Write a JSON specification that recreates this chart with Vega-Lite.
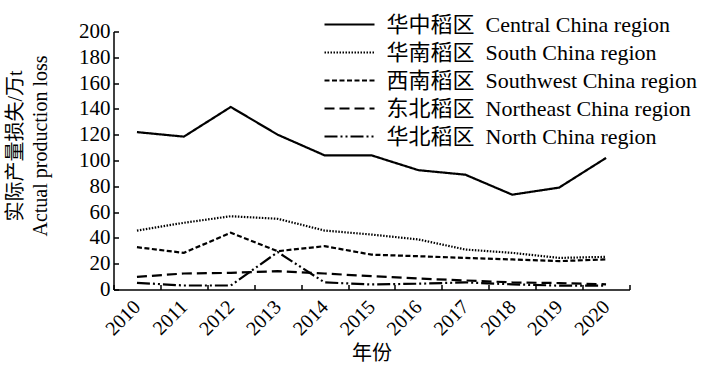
{
  "$schema": "https://vega.github.io/schema/vega-lite/v6.json",
  "autosize": {"type": "none"},
  "padding": {"left": 113.5, "top": 31.5, "right": 83.5, "bottom": 79.5},
  "width": 516,
  "height": 258,
  "background": "white",
  "data": {"values": [
    {"year": 2010, "region": "华中稻区 Central China region", "v": 122},
    {"year": 2011, "region": "华中稻区 Central China region", "v": 118.5},
    {"year": 2012, "region": "华中稻区 Central China region", "v": 141.5},
    {"year": 2013, "region": "华中稻区 Central China region", "v": 120},
    {"year": 2014, "region": "华中稻区 Central China region", "v": 104},
    {"year": 2015, "region": "华中稻区 Central China region", "v": 104},
    {"year": 2016, "region": "华中稻区 Central China region", "v": 92.5},
    {"year": 2017, "region": "华中稻区 Central China region", "v": 89},
    {"year": 2018, "region": "华中稻区 Central China region", "v": 73.5},
    {"year": 2019, "region": "华中稻区 Central China region", "v": 79},
    {"year": 2020, "region": "华中稻区 Central China region", "v": 102},
    {"year": 2010, "region": "华南稻区 South China region", "v": 45.7},
    {"year": 2011, "region": "华南稻区 South China region", "v": 51.7},
    {"year": 2012, "region": "华南稻区 South China region", "v": 56.8},
    {"year": 2013, "region": "华南稻区 South China region", "v": 54.8},
    {"year": 2014, "region": "华南稻区 South China region", "v": 45.7},
    {"year": 2015, "region": "华南稻区 South China region", "v": 42.6},
    {"year": 2016, "region": "华南稻区 South China region", "v": 38.8},
    {"year": 2017, "region": "华南稻区 South China region", "v": 31},
    {"year": 2018, "region": "华南稻区 South China region", "v": 28.4},
    {"year": 2019, "region": "华南稻区 South China region", "v": 24.5},
    {"year": 2020, "region": "华南稻区 South China region", "v": 25.3},
    {"year": 2010, "region": "西南稻区 Southwest China region", "v": 32.8},
    {"year": 2011, "region": "西南稻区 Southwest China region", "v": 28.4},
    {"year": 2012, "region": "西南稻区 Southwest China region", "v": 44},
    {"year": 2013, "region": "西南稻区 Southwest China region", "v": 29.7},
    {"year": 2014, "region": "西南稻区 Southwest China region", "v": 33.6},
    {"year": 2015, "region": "西南稻区 Southwest China region", "v": 27},
    {"year": 2016, "region": "西南稻区 Southwest China region", "v": 25.8},
    {"year": 2017, "region": "西南稻区 Southwest China region", "v": 24.5},
    {"year": 2018, "region": "西南稻区 Southwest China region", "v": 23.3},
    {"year": 2019, "region": "西南稻区 Southwest China region", "v": 22},
    {"year": 2020, "region": "西南稻区 Southwest China region", "v": 23.3},
    {"year": 2010, "region": "东北稻区 Northeast China region", "v": 9.8},
    {"year": 2011, "region": "东北稻区 Northeast China region", "v": 12.4},
    {"year": 2012, "region": "东北稻区 Northeast China region", "v": 12.9},
    {"year": 2013, "region": "东北稻区 Northeast China region", "v": 14.2},
    {"year": 2014, "region": "东北稻区 Northeast China region", "v": 12.4},
    {"year": 2015, "region": "东北稻区 Northeast China region", "v": 10.3},
    {"year": 2016, "region": "东北稻区 Northeast China region", "v": 8.5},
    {"year": 2017, "region": "东北稻区 Northeast China region", "v": 7},
    {"year": 2018, "region": "东北稻区 Northeast China region", "v": 5.5},
    {"year": 2019, "region": "东北稻区 Northeast China region", "v": 5},
    {"year": 2020, "region": "东北稻区 Northeast China region", "v": 4},
    {"year": 2010, "region": "华北稻区 North China region", "v": 5.2},
    {"year": 2011, "region": "华北稻区 North China region", "v": 3.1},
    {"year": 2012, "region": "华北稻区 North China region", "v": 3.1},
    {"year": 2013, "region": "华北稻区 North China region", "v": 29},
    {"year": 2014, "region": "华北稻区 North China region", "v": 5.5},
    {"year": 2015, "region": "华北稻区 North China region", "v": 3.9},
    {"year": 2016, "region": "华北稻区 North China region", "v": 4.5},
    {"year": 2017, "region": "华北稻区 North China region", "v": 5.5},
    {"year": 2018, "region": "华北稻区 North China region", "v": 4},
    {"year": 2019, "region": "华北稻区 North China region", "v": 3},
    {"year": 2020, "region": "华北稻区 North China region", "v": 3}
  ]},
  "mark": {"type": "line", "color": "black", "strokeWidth": 2.2},
  "encoding": {
    "x": {
      "field": "year", "type": "quantitative",
      "scale": {"domain": [2009.5, 2020.5], "nice": false, "zero": false},
      "axis": {
        "values": [2009.5, 2010.5, 2011.5, 2012.5, 2013.5, 2014.5, 2015.5, 2016.5, 2017.5, 2018.5, 2019.5, 2020.5],
        "labelExpr": "datum.value < 2020 ? toString(datum.value + 0.5) : ''",
        "labelOffset": 23.45,
        "labelAngle": -45,
        "labelAlign": "right",
        "labelBaseline": "middle",
        "labelPadding": 19,
        "tickSize": -5,
        "labelFlush": false,
        "labelOverlap": false,
        "labelBound": false,
        "title": "年份",
        "titleY": 64,
        "titleBaseline": "middle"
      }
    },
    "y": {
      "field": "v", "type": "quantitative",
      "scale": {"domain": [0, 200], "nice": false},
      "axis": {
        "values": [0, 20, 40, 60, 80, 100, 120, 140, 160, 180, 200],
        "tickSize": -5,
        "labelPadding": 8.6,
        "title": ["实际产量损失/万t", "Actual production loss"],
        "titleAngle": -90,
        "titleAlign": "center",
        "titleBaseline": "top",
        "titleX": -108,
        "titleY": 114,
        "titleLineHeight": 25
      }
    },
    "strokeDash": {
      "field": "region", "type": "nominal",
      "scale": {
        "domain": ["华中稻区 Central China region", "华南稻区 South China region", "西南稻区 Southwest China region", "东北稻区 Northeast China region", "华北稻区 North China region"],
        "range": [[1, 0], [1.5, 1.5], [5, 2.5], [10, 5], [13, 3, 2, 3, 2, 3]]
      },
      "legend": {
        "orient": "none",
        "legendX": 225,
        "legendY": -18,
        "title": null,
        "padding": 0,
        "symbolType": "M-5,0H5",
        "symbolSize": 100,
        "symbolStrokeWidth": 2,
        "symbolStrokeColor": "black",
        "labelOffset": 26,
        "rowPadding": 6,
        "labelLimit": 0,
        "labelExpr": "replace(datum.label, ' ', '\u2002')"
      }
    }
  },
  "config": {
    "view": {"stroke": null},
    "font": "Liberation Serif, Noto Sans CJK SC",
    "axis": {
      "grid": false,
      "domainColor": "black",
      "domainWidth": 1.5,
      "tickColor": "black",
      "tickWidth": 1.5,
      "labelColor": "black",
      "labelFont": "Liberation Serif, Noto Sans CJK SC",
      "labelFontSize": 21,
      "titleColor": "black",
      "titleFont": "Liberation Serif, Noto Sans CJK SC",
      "titleFontSize": 20,
      "titleFontWeight": "normal"
    },
    "axisX": {"labelFontSize": 20},
    "legend": {
      "labelFont": "Liberation Serif, Noto Sans CJK SC",
      "labelFontSize": 22,
      "labelColor": "black"
    }
  }
}
